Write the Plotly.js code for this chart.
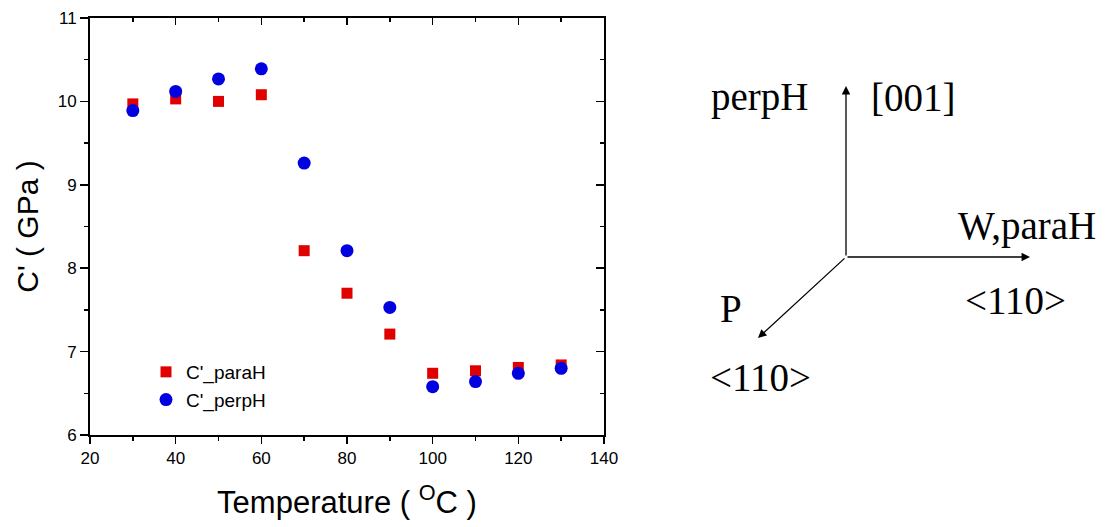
<!DOCTYPE html>
<html>
<head>
<meta charset="utf-8">
<script src="https://cdn.plot.ly/plotly-3.0.1.min.js"></script>
<style>html,body{margin:0;padding:0;background:#fff;}#chart{width:1116px;height:527px;}</style>
</head>
<body>
<div id="chart"></div>
<script>
// Data
var temperature = [30, 40, 50, 60, 70, 80, 90, 100, 110, 120, 130];
var cParaH = [9.97, 10.03, 10.00, 10.08, 8.21, 7.70, 7.21, 6.74, 6.77, 6.81, 6.84];
var cPerpH = [9.89, 10.12, 10.27, 10.39, 9.26, 8.21, 7.53, 6.58, 6.64, 6.74, 6.80];
var seriesNames = ["C'_paraH", "C'_perpH"];

// plot-area geometry in pixels (for placing the right-hand diagram)
var W = 1116, H = 527;
var mL = 90, mR = 512, mT = 18, mB = 92;
var pw = W - mL - mR, ph = H - mT - mB;
function px(x) { return (x - mL) / pw; }
function py(y) { return (H - mB - y) / ph; }

var traces = [
  {x: temperature, y: cParaH, name: seriesNames[0], type: 'scatter', mode: 'markers',
   marker: {symbol: 'square', size: 11, color: '#e00000'}},
  {x: temperature, y: cPerpH, name: seriesNames[1], type: 'scatter', mode: 'markers',
   marker: {symbol: 'circle', size: 13, color: '#0000e0'}},
  {x: [], y: [], xaxis: 'x2', yaxis: 'y2', showlegend: false, hoverinfo: 'skip', type: 'scatter'}
];

var axFont = {family: 'Liberation Sans, Arial, sans-serif', size: 17, color: '#000'};
var layout = {
  width: W, height: H,
  margin: {l: mL, r: mR, t: mT, b: mB, pad: 0},
  paper_bgcolor: '#fff', plot_bgcolor: '#fff',
  font: {family: 'Liberation Sans, Arial, sans-serif', color: '#000'},
  showlegend: true,
  legend: {x: px(146), y: py(353), xanchor: 'left', yanchor: 'top', bgcolor: 'rgba(0,0,0,0)',
           font: {family: 'Liberation Sans, Arial, sans-serif', size: 19, color: '#000'},
           itemsizing: 'trace', tracegroupgap: 0},
  xaxis: {range: [20, 140], dtick: 20, tick0: 20, ticks: 'outside', ticklen: 7, tickwidth: 1.5,
          tickcolor: '#000', showline: true, linewidth: 2, linecolor: '#000', showgrid: false,
          zeroline: false, tickfont: axFont,
          minor: {dtick: 10, ticklen: 4, tickwidth: 1.5, tickcolor: '#000', ticks: 'outside', showgrid: false},
          title: {text: 'Temperature ( <sup>O</sup>C )', font: {size: 31, family: 'Liberation Sans, Arial, sans-serif', color: '#000'}, standoff: 24}},
  yaxis: {range: [6, 11], dtick: 1, tick0: 6, ticks: 'outside', ticklen: 8, tickwidth: 1.5,
          tickcolor: '#000', showline: true, linewidth: 2, linecolor: '#000', showgrid: false,
          zeroline: false, tickfont: axFont,
          minor: {dtick: 0.5, ticklen: 4, tickwidth: 1.5, tickcolor: '#000', ticks: 'outside', showgrid: false},
          title: {text: "C' ( GPa )", font: {size: 30, family: 'Liberation Sans, Arial, sans-serif', color: '#000'}, standoff: 10}},
  xaxis2: {overlaying: 'x', side: 'top', anchor: 'y', range: [20, 140], dtick: 20, tick0: 20,
           ticks: 'inside', ticklen: 7, tickwidth: 1.5, tickcolor: '#000', showticklabels: false,
           showline: true, linewidth: 2, linecolor: '#000', showgrid: false, zeroline: false,
           minor: {dtick: 10, ticklen: 4, tickwidth: 1.5, tickcolor: '#000', ticks: 'inside', showgrid: false}},
  yaxis2: {overlaying: 'y', side: 'right', anchor: 'x', range: [6, 11], dtick: 1, tick0: 6,
           ticks: 'inside', ticklen: 8, tickwidth: 1.5, tickcolor: '#000', showticklabels: false,
           showline: true, linewidth: 2, linecolor: '#000', showgrid: false, zeroline: false,
           minor: {dtick: 0.5, ticklen: 4, tickwidth: 1.5, tickcolor: '#000', ticks: 'inside', showgrid: false}},
  annotations: []
};

// Right-hand crystal axes diagram
var serif = {family: 'Liberation Serif, Times New Roman, serif', size: 39, color: '#000'};
var origin = [846, 257];
var arrows = [[846, 86], [1030, 257], [758, 338]];
arrows.forEach(function (t) {
  layout.annotations.push({
    xref: 'paper', yref: 'paper', x: px(t[0]), y: py(t[1]),
    ax: origin[0] - t[0], ay: origin[1] - t[1], axref: 'pixel', ayref: 'pixel',
    text: '', showarrow: true, arrowhead: 2, arrowsize: 1.3, arrowwidth: 1.3, arrowcolor: '#000'
  });
});
var labels = [
  ['perpH', 759, 97], ['[001]', 913, 97], ['W,paraH', 1027, 226],
  ['&lt;110&gt;', 1015, 300], ['P', 731, 308], ['&lt;110&gt;', 760, 377]
];
labels.forEach(function (l) {
  layout.annotations.push({
    xref: 'paper', yref: 'paper', x: px(l[1]), y: py(l[2]), xanchor: 'center', yanchor: 'middle',
    text: l[0], showarrow: false, font: serif
  });
});

Plotly.newPlot('chart', traces, layout, {displayModeBar: false, staticPlot: true});
</script>
</body>
</html>
